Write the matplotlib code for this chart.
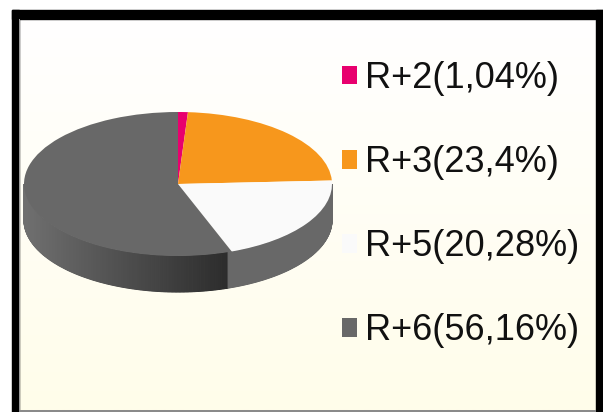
import numpy as np
import matplotlib.pyplot as plt
from matplotlib.patches import Rectangle
from matplotlib.colors import LinearSegmentedColormap, to_rgb

labels = ['R+2(1,04%)', 'R+3(23,4%)', 'R+5(20,28%)', 'R+6(56,16%)']
shares = [1.04, 23.4, 20.28, 56.16]
colors = ['#e8006e', '#f7971c', '#fafafa', '#686868']
side_colors = ['#b0005a', '#c07414', '#686868', None]  # None -> shaded gradient

plt.rcParams['font.family'] = ['Liberation Sans', 'DejaVu Sans']

W, H = 603, 412
fig = plt.figure(figsize=(W / 100, H / 100), dpi=100)
fig.patch.set_facecolor('white')

# background panel and frame, in pixel coords
bg = fig.add_axes([0, 0, 1, 1])
grad = np.linspace(0, 1, 256).reshape(-1, 1)
cmap = LinearSegmentedColormap.from_list('bg', ['#ffffff', '#fffdea'])
bg.imshow(grad, extent=(20, 596, 410, 19), cmap=cmap, aspect='auto', origin='upper')
bg.add_patch(Rectangle((12, 10), W - 12, 9, color='black'))
bg.add_patch(Rectangle((12, 10), 7, H - 10, color='black'))
bg.add_patch(Rectangle((596, 10), 7, H - 10, color='black'))
bg.add_patch(Rectangle((19, 19), 1.2, H - 19, color='#9a9a9a', lw=0))
bg.add_patch(Rectangle((19, 410), 577, 2, color='#8a8a8a', lw=0))
bg.set_xlim(0, W)
bg.set_ylim(H, 0)
bg.axis('off')

# pie axes: unit circle squashed into an ellipse
rx, ry, cx, cy, depth = 154, 72, 178, 184, 36
x0, x1, y0, y1 = -1.15, 1.15, -1.9, 1.15
pax = fig.add_axes([(cx + x0 * rx) / W, (H - (cy - y0 * ry)) / H,
                    (x1 - x0) * rx / W, (y1 - y0) * ry / H])
pax.patch.set_alpha(0)

d = depth / ry
bounds = 90 - np.cumsum([0] + shares) * 3.6  # clockwise from top
gray_end = np.cos(np.radians(bounds[3]))
dark0, dark1 = np.array(to_rgb('#707070')), np.array(to_rgb('#2c2c2c'))

step = 0.5
for a in np.arange(180, 360, step):
    mid = a + step / 2
    for i in range(len(shares)):
        lo, hi = bounds[i + 1], bounds[i]
        if lo <= mid - 360 <= hi or lo <= mid <= hi or lo <= mid - 720 <= hi:
            break
    c = side_colors[i]
    if c is None:
        t = (np.cos(np.radians(mid)) + 1) / (gray_end + 1)
        c = tuple(dark0 + (dark1 - dark0) * np.clip(t, 0, 1))
    th = np.radians(np.linspace(a, a + step, 3))
    xs, ys = np.cos(th), np.sin(th)
    pax.fill(np.r_[xs, xs[::-1]], np.r_[ys, ys[::-1] - d], color=c, lw=0.8, ec=c)

wedges, _ = pax.pie(shares, colors=colors, startangle=90, counterclock=False,
                    wedgeprops=dict(linewidth=0))
pax.set_aspect('auto')
pax.set_xlim(x0, x1)
pax.set_ylim(y0, y1)
pax.axis('off')

leg = fig.legend(wedges, labels, loc='upper left',
                 bbox_to_anchor=(342 / W, 1 - 61 / H), frameon=False,
                 fontsize=26, handlelength=0.42, handleheight=0.42,
                 handletextpad=0.22, labelspacing=1.36, borderpad=0,
                 borderaxespad=0)
for txt in leg.get_texts():
    txt.set_color('#111111')

fig.savefig('out.png', dpi=100)
